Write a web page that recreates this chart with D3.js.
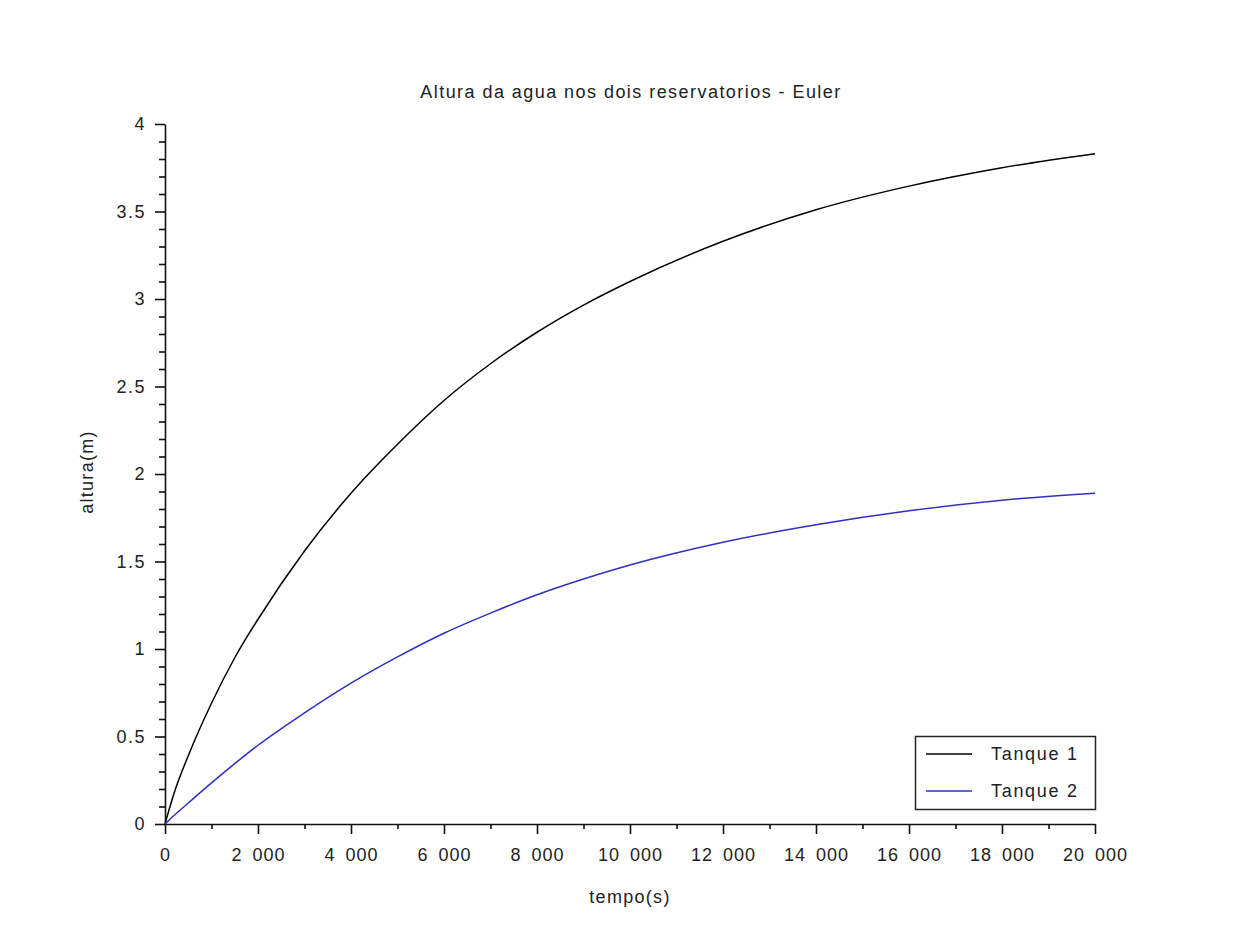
<!DOCTYPE html>
<html>
<head>
<meta charset="utf-8">
<script src="https://cdn.jsdelivr.net/npm/d3@7"></script>
<style>
    body { margin: 0; background: #fff; }
    svg text { font-family: "Liberation Sans", Arial, sans-serif; fill: #222; }
</style>
</head>
<body>
<div id="myChart"></div>
<script>
// values
const tempo   = [0, 200, 500, 1000, 1500, 2000, 3000, 4000, 5000, 6000, 7000, 8000, 9000, 10000, 12000, 14000, 16000, 18000, 20000];
const tanque1 = [0, 0.18, 0.39, 0.69, 0.95, 1.17, 1.56, 1.89, 2.17, 2.42, 2.63, 2.81, 2.965, 3.10, 3.33, 3.51, 3.645, 3.75, 3.83];
const tanque2 = [0, 0.05, 0.12, 0.235, 0.345, 0.45, 0.635, 0.805, 0.955, 1.09, 1.205, 1.31, 1.40, 1.48, 1.61, 1.71, 1.79, 1.85, 1.89];

const xTicks = [0, 2000, 4000, 6000, 8000, 10000, 12000, 14000, 16000, 18000, 20000];
const xMinor = [1000, 3000, 5000, 7000, 9000, 11000, 13000, 15000, 17000, 19000];
const yTicks = [0, 0.5, 1, 1.5, 2, 2.5, 3, 3.5, 4];
const yMinor = d3.range(0, 41).map(function (i) { return i / 10; }).filter(function (v) { return Math.round(v * 10) % 5 != 0; });

const seriesNames = ["Tanque 1", "Tanque 2"];
const seriesColors = ["#000000", "#3030c0"];

let width = 1253, height = 943;

let svg = d3.select('#myChart')
    .append('svg')
    .attr('width', width)
    .attr('height', height);

let x = d3.scaleLinear().domain([0, 20000]).range([165, 1095]);
let y = d3.scaleLinear().domain([0, 4]).range([824, 124]);

// minor ticks
svg.append("g")
    .attr("transform", "translate(0,824)")
    .call(d3.axisBottom(x).tickValues(xMinor).tickSize(5).tickFormat(""))
    .call(function (g) { g.select(".domain").remove(); });
svg.append("g")
    .attr("transform", "translate(165,0)")
    .call(d3.axisLeft(y).tickValues(yMinor).tickSize(6).tickFormat(""))
    .call(function (g) { g.select(".domain").remove(); });

// X axis
svg.append("g")
    .attr("transform", "translate(0,824)")
    .call(d3.axisBottom(x).tickValues(xTicks).tickSize(10).tickSizeOuter(0).tickPadding(14)
        .tickFormat(function (d) { return d3.format(",")(d).replace(/,/g, "\u2002"); }))
    .selectAll(".tick text").style("letter-spacing", "1px");

// Y axis
svg.append("g")
    .attr("transform", "translate(165,0)")
    .call(d3.axisLeft(y).tickValues(yTicks).tickSize(10).tickSizeOuter(0).tickPadding(9)
        .tickFormat(function (d) { return String(d); }))
    .selectAll(".tick text").style("letter-spacing", "1.5px");

svg.selectAll(".tick text").style("font-size", "18px").style("fill", "#222");
svg.selectAll(".domain, .tick line").attr("stroke", "#111").attr("stroke-width", 1.6);

// lines
let line = d3.line()
    .x(function (d) { return x(d[0]); })
    .y(function (d) { return y(d[1]); })
    .curve(d3.curveMonotoneX);

[tanque1, tanque2].forEach(function (s, i) {
    svg.append("path")
        .datum(tempo.map(function (t, j) { return [t, s[j]]; }))
        .attr("fill", "none")
        .attr("stroke", seriesColors[i])
        .attr("stroke-width", 1.5)
        .attr("d", line);
});

// title and labels
svg.append("text")
    .attr("x", 631).attr("y", 98)
    .attr("text-anchor", "middle")
    .style("font-size", "18px")
    .style("letter-spacing", "1.45px")
    .text("Altura da agua nos dois reservatorios - Euler");

svg.append("text")
    .attr("x", 630).attr("y", 903)
    .attr("text-anchor", "middle")
    .style("font-size", "18px")
    .style("letter-spacing", "1.3px")
    .text("tempo(s)");

svg.append("text")
    .attr("transform", "translate(93,472) rotate(-90)")
    .attr("text-anchor", "middle")
    .style("font-size", "18px")
    .style("letter-spacing", "1.3px")
    .text("altura(m)");

// legend
let legend = svg.append("g");
legend.append("rect")
    .attr("x", 915.5).attr("y", 736.5)
    .attr("width", 180).attr("height", 73)
    .attr("fill", "#fff")
    .attr("stroke", "#222")
    .attr("stroke-width", 1.5);

seriesNames.forEach(function (name, i) {
    let ly = 754 + i * 37;
    legend.append("line")
        .attr("x1", 926).attr("x2", 972)
        .attr("y1", ly).attr("y2", ly)
        .attr("stroke", seriesColors[i])
        .attr("stroke-width", 1.5);
    legend.append("text")
        .attr("x", 991).attr("y", ly + 6)
        .style("font-size", "18px")
        .style("letter-spacing", "1.7px")
        .text(name);
});
</script>
</body>
</html>
